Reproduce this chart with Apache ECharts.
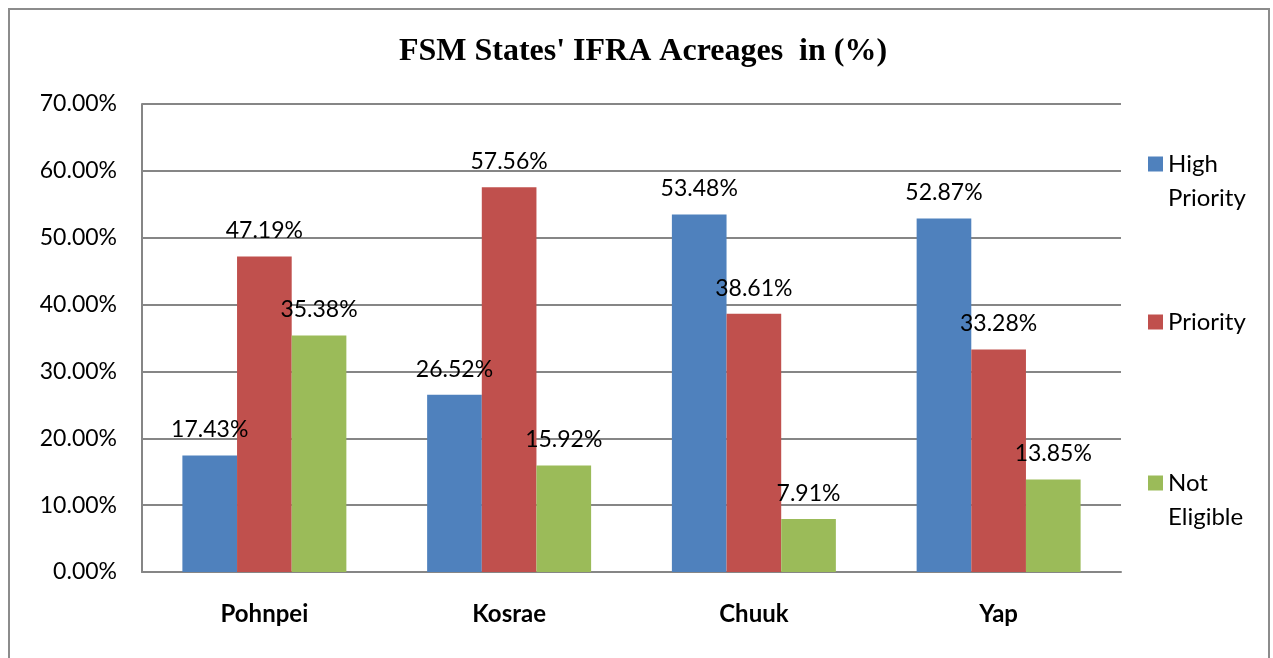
<!DOCTYPE html>
<html>
<head>
<meta charset="utf-8">
<script src="https://cdn.jsdelivr.net/npm/echarts@6/dist/echarts.min.js"></script>
<style>
  html, body { margin: 0; padding: 0; background: #fff; }
  #frame { position: absolute; left: 8px; top: 8px; width: 1262px; height: 660px;
           border: 2px solid #8c8c8c; border-bottom: none; box-sizing: border-box; }
  #chart { position: absolute; left: 0; top: 0; width: 1273px; height: 658px; }
</style>
</head>
<body>
<div id="frame"></div>
<div id="chart"></div>
<script>
// FSM states and their IFRA acreage shares (percent)
const states = ['Pohnpei', 'Kosrae', 'Chuuk', 'Yap'];
const highPriority = [17.43, 26.52, 53.48, 52.87];
const priority = [47.19, 57.56, 38.61, 33.28];
const notEligible = [35.38, 15.92, 7.91, 13.85];
const seriesNames = ['High\nPriority', 'Priority', 'Not\nEligible'];
const seriesColors = ['#4F81BD', '#C0504D', '#9BBB59'];
const seriesData = [highPriority, priority, notEligible];

const font = 'Lato, "Open Sans", sans-serif';
const chart = echarts.init(document.getElementById('chart'), null, { renderer: 'canvas' });

// legend blocks: a leading blank line keeps the swatch beside the first text line
const legendTops = [113, 305, 432];

chart.setOption({
  animation: false,
  title: {
    text: "FSM States' IFRA Acreages  in (%)",
    left: 638, top: 31, textAlign: 'center',
    textStyle: { fontFamily: '"Liberation Serif", "DejaVu Serif", serif', fontWeight: 'bold', fontSize: 32, color: '#000' }
  },
  legend: seriesNames.map((n, i) => ({
    data: [n],
    left: 1148, top: legendTops[i],
    padding: 0,
    orient: 'vertical',
    itemWidth: 15, itemHeight: 15, itemGap: 0,
    icon: 'rect',
    selectedMode: false,
    formatter: name => name.indexOf('\n') >= 0 ? '\u00a0\n' + name : name,
    textStyle: { fontFamily: font, fontSize: 24, color: '#000', lineHeight: 34 }
  })),
  grid: { left: 142, right: 152, top: 104, bottom: 86, containLabel: false },
  xAxis: {
    type: 'category',
    data: states,
    axisLine: { show: true, lineStyle: { color: '#868686', width: 2 } },
    axisTick: { show: false },
    axisLabel: { fontFamily: font, fontWeight: 'bold', fontSize: 24, color: '#000', margin: 30 }
  },
  yAxis: {
    type: 'value',
    min: 0, max: 70, interval: 10,
    axisLine: { show: true, lineStyle: { color: '#868686', width: 2 } },
    axisTick: { show: false },
    splitLine: { lineStyle: { color: '#868686', width: 2 } },
    axisLabel: { fontFamily: font, fontSize: 23, color: '#000', margin: 25,
                 formatter: v => v.toFixed(2) + '%' }
  },
  series: seriesNames.map((n, i) => ({
    name: n,
    type: 'bar',
    data: seriesData[i],
    barGap: '0%',
    barCategoryGap: '33%',
    itemStyle: { color: seriesColors[i] },
    label: {
      show: true, position: 'top', distance: 14,
      fontFamily: font, fontSize: 23, color: '#000',
      formatter: p => p.value.toFixed(2) + '%'
    }
  }))
});
</script>
</body>
</html>
